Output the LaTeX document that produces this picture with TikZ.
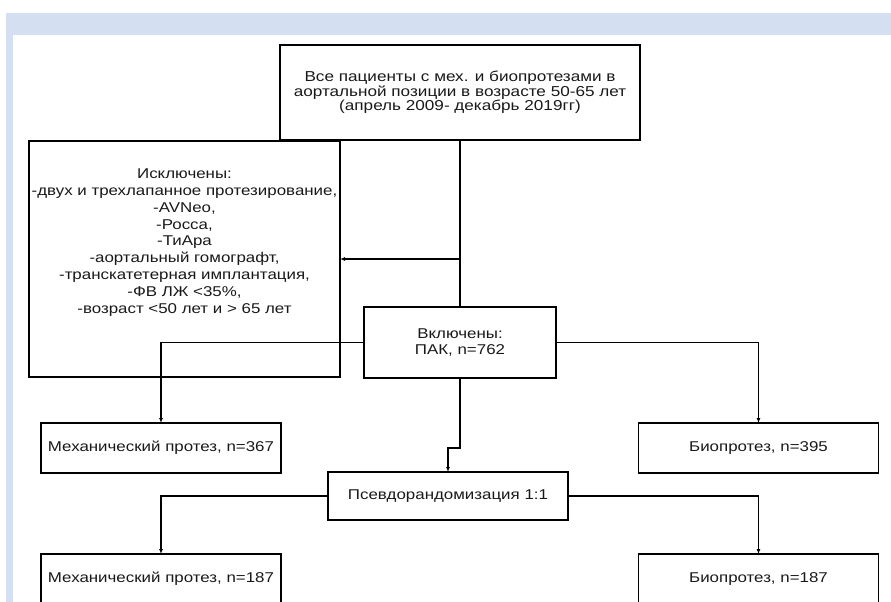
\documentclass[tikz,border=0pt]{standalone}
\usepackage{fontspec}
\setmainfont{Liberation Sans}[FakeStretch=1.19]
\usetikzlibrary{arrows.meta,
                calc,
                positioning}
\definecolor{bandblue}{RGB}{212,224,241}

\begin{document}
\begin{tikzpicture}[x=1pt, y=1pt]
    \tikzset
    {
        base/.style = {draw,
                       line width = 1.8pt,
                       inner sep = 0pt,
                       outer sep = 0pt,
                       text = black!90,
                       align = center,
                       font = \fontsize{14.2}{16.8}\selectfont},
        wide/.style = {base,
                       minimum width = 240pt,
                       minimum height = 50pt},
        link/.style = {line width = 1.4pt,
                       -{Latex[length=5pt, width=4pt]}},
        plain/.style = {line width = 1.4pt}
    };

    \useasboundingbox (0,0) rectangle (891,-602);
    \clip (0,0) rectangle (891,-602);
    % page band
    \fill[bandblue] (6,-13) rectangle (891,-35);
    \fill[bandblue] (6,-35) rectangle (13,-602);

    % Row #
    % 1
    \node[base, minimum width=360pt, minimum height=95pt,
          font=\fontsize{14.4}{14.4}\selectfont] (all) at (460,-92.5)
        {Все пациенты с мех. и биопротезами в\\
         аортальной позиции в возрасте 50-65 лет\\
         (апрель 2009- декабрь 2019гг)};
    % 2
    \node[base, minimum width=311pt, minimum height=236pt,
          text depth=36pt] (excl) at (184.5,-259)
        {Исключены:\\
         -двух и трехлапанное протезирование,\\
         -AVNeo,\\
         -Росса,\\
         -ТиАра\\
         -аортальный гомографт,\\
         -транскатетерная имплантация,\\
         -ФВ ЛЖ <35\%,\\
         -возраст <50 лет и > 65 лет};
    \node[base, minimum width=192pt, minimum height=71pt] (incl)
        [below=167pt of all] {Включены:\\ПАК, n=762};
    % 3
    \node[wide] (mech all) at (161,-448) {Механический протез, n=367};
    \node[wide] (bio all) [right=357.5pt of mech all] {Биопротез, n=395};
    % 4
    \node[wide, minimum height=48pt] (psm) at (448,-496) {Псевдорандомизация 1:1};
    % 5
    \node[wide] (mech psm) [below=81pt of mech all] {Механический протез, n=187};
    \node[wide] (bio psm) [below=81pt of bio all] {Биопротез, n=187};

    % Arrows
    \coordinate (split) at ($(all.south |- excl.east)$);
    \draw[plain] (all) -- (incl);
    \draw[link] (split) -- (excl.east);
    \draw[link] (incl.west) -| (mech all.north);
    \draw[link] (incl.east) -| (bio all.north);
    \draw[link] (incl.south) -- ++(0,-70) -| (psm.north);
    \draw[link] (psm.west) -| (mech psm.north);
    \draw[link] (psm.east) -| (bio psm.north);

\end{tikzpicture}
\end{document}
